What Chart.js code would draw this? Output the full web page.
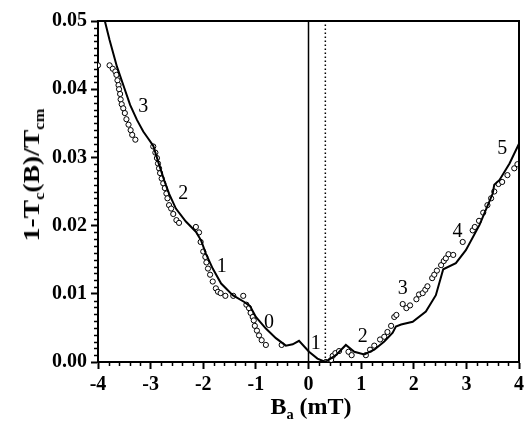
<!DOCTYPE html>
<html>
<head>
<meta charset="utf-8">
<script src="https://cdn.jsdelivr.net/npm/chart.js@4/dist/chart.umd.min.js"></script>
<style>
  body { margin: 0; background: #fff; }
  #wrap { position: relative; width: 524px; height: 424px; }
  .title { position: absolute; font-family: "Liberation Serif", serif; font-weight: bold; font-size: 24px; line-height: 1; white-space: nowrap; color: #000; }
  .title sub { font-size: 60%; vertical-align: baseline; position: relative; top: 0.35em; }
  #ytitle { left: 31px; top: 175px; transform: translate(-50%, -50%) rotate(-90deg) scaleX(1.15); }
  #xtitle { left: 311px; top: 406px; transform: translate(-50%, -50%); }
</style>
</head>
<body>
<div id="wrap">
  <canvas id="myChart" width="524" height="424"></canvas>
  <div class="title" id="ytitle">1-T<sub>c</sub>(B)/T<sub>cm</sub></div>
  <div class="title" id="xtitle">B<sub>a</sub> (mT)</div>
</div>
<script>
// measured points (open circles)
const expX = [-4.00, -3.78, -3.72, -3.67, -3.65, -3.63, -3.61, -3.60, -3.58, -3.57, -3.55, -3.52, -3.49, -3.46, -3.42, -3.38, -3.35, -3.29,
  -2.95, -2.91, -2.88, -2.86, -2.84, -2.82, -2.79, -2.76, -2.73, -2.70, -2.68, -2.65, -2.61, -2.57, -2.51, -2.46,
  -2.14, -2.08, -2.05, -2.00, -1.96, -1.94, -1.91, -1.87, -1.82, -1.76, -1.72, -1.67, -1.58, -1.43, -1.24,
  -1.18, -1.13, -1.10, -1.06, -1.04, -1.02, -0.98, -0.94, -0.89, -0.81, -0.51,
  0.33, 0.43, 0.46, 0.51, 0.58, 0.76, 0.82, 1.09, 1.17, 1.25, 1.36, 1.44, 1.50, 1.57, 1.63, 1.67,
  1.79, 1.86, 1.93, 2.05, 2.10, 2.17, 2.22, 2.26, 2.35, 2.39, 2.44, 2.52, 2.57, 2.61, 2.66, 2.75,
  2.93, 3.12, 3.16, 3.24, 3.32, 3.40, 3.47, 3.53, 3.61, 3.68, 3.78, 3.91, 3.97];
const expY = [0.0435, 0.0435, 0.0430, 0.0426, 0.0421, 0.0413, 0.0406, 0.0400, 0.0393, 0.0385, 0.0378, 0.0372, 0.0365, 0.0356, 0.0348, 0.0340, 0.0333, 0.0326,
  0.0316, 0.0307, 0.0299, 0.0291, 0.0284, 0.0277, 0.0269, 0.0262, 0.0255, 0.0247, 0.0240, 0.0230, 0.0225, 0.0217, 0.0208, 0.0204,
  0.0198, 0.0190, 0.0176, 0.0162, 0.0154, 0.0146, 0.0137, 0.0128, 0.0118, 0.0108, 0.0103, 0.0101, 0.0097, 0.0097, 0.0097,
  0.0084, 0.0079, 0.0072, 0.0066, 0.0061, 0.0053, 0.0046, 0.0039, 0.0032, 0.0025, 0.0025,
  0.0000, 0.0003, 0.0009, 0.0013, 0.0016, 0.0015, 0.0010, 0.0010, 0.0018, 0.0024, 0.0033, 0.0037, 0.0044, 0.0053, 0.0066, 0.0069,
  0.0085, 0.0079, 0.0083, 0.0092, 0.0099, 0.0101, 0.0106, 0.0111, 0.0123, 0.0128, 0.0134, 0.0142, 0.0148, 0.0152, 0.0158, 0.0157,
  0.0176, 0.0193, 0.0198, 0.0207, 0.0219, 0.0230, 0.0240, 0.0250, 0.0261, 0.0264, 0.0274, 0.0284, 0.0290];

// calculated curve (solid line)
const fitX = [-3.87, -3.78, -3.64, -3.51, -3.39, -3.26, -3.14, -3.05, -2.95,
  -2.85, -2.74, -2.65, -2.52, -2.33, -2.14, -2.04, -1.95, -1.82, -1.66, -1.44, -1.22, -1.11,
  -1.00, -0.81, -0.62, -0.43, -0.30, -0.18, 0.01, 0.17, 0.32,
  0.52, 0.71, 0.87, 1.06, 1.25, 1.44, 1.60, 1.66, 1.76, 1.98, 2.23, 2.42, 2.56,
  2.80, 2.99, 3.25, 3.50, 3.53, 3.63, 3.82, 4.00];
const fitY = [0.0500, 0.0472, 0.0433, 0.0404, 0.0377, 0.0355, 0.0338, 0.0328, 0.0317,
  0.0292, 0.0266, 0.0247, 0.0225, 0.0206, 0.0191, 0.0178, 0.0159, 0.0137, 0.0115, 0.0098, 0.0088, 0.0082,
  0.0066, 0.0049, 0.0035, 0.0024, 0.0026, 0.0031, 0.0015, 0.0005, 0.0000,
  0.0010, 0.0025, 0.0015, 0.0011, 0.0018, 0.0030, 0.0043, 0.0052, 0.0055, 0.0059, 0.0074, 0.0098, 0.0136,
  0.0145, 0.0164, 0.0201, 0.0247, 0.0260, 0.0267, 0.0291, 0.0320];

// vortex number labels
const labelText = ['3', '2', '1', '0', '1', '2', '3', '4', '5'];
const labelX = [-3.14, -2.38, -1.65, -0.75, 0.14, 1.03, 1.79, 2.83, 3.68];
const labelY = [0.0375, 0.0247, 0.0139, 0.0057, 0.0027, 0.0037, 0.0107, 0.0191, 0.0312];

// vertical markers
const zeroLineX = 0;
const dottedLineX = 0.32;

const xTickValues = [-4, -3, -2, -1, 0, 1, 2, 3, 4];
const yTickValues = [0.00, 0.01, 0.02, 0.03, 0.04, 0.05];

const serif = '"Liberation Serif", "Times New Roman", serif';

function toPoints(xs, ys) {
    return xs.map((x, i) => ({ x: x, y: ys[i] }));
}

const minorTicks = {
    id: 'minorTicks',
    afterDraw(chart) {
        const ctx = chart.ctx;
        const xs = chart.scales.x;
        const ys = chart.scales.y;
        const area = chart.chartArea;
        ctx.save();
        ctx.strokeStyle = '#000';
        ctx.lineWidth = 1.5;
        ctx.beginPath();
        for (let i = 0; i <= 40; i++) {
            if (i % 5 === 0) continue;
            const px = Math.round(xs.getPixelForValue(-4 + i * 0.2)) + 0.5;
            ctx.moveTo(px, area.bottom);
            ctx.lineTo(px, area.bottom + 4);
        }
        for (let i = 0; i <= 50; i++) {
            if (i % 10 === 0) continue;
            const py = Math.round(ys.getPixelForValue(i * 0.001)) + 0.5;
            ctx.moveTo(area.left, py);
            ctx.lineTo(area.left - 4, py);
        }
        ctx.stroke();
        // frame top and right
        ctx.lineWidth = 2;
        ctx.beginPath();
        ctx.moveTo(area.left, area.top);
        ctx.lineTo(area.right, area.top);
        ctx.lineTo(area.right, area.bottom);
        ctx.stroke();
        ctx.restore();
    }
};

const numberLabels = {
    id: 'numberLabels',
    afterDatasetsDraw(chart) {
        const ctx = chart.ctx;
        ctx.save();
        ctx.fillStyle = '#000';
        ctx.font = '20px ' + serif;
        ctx.textAlign = 'center';
        ctx.textBaseline = 'middle';
        labelText.forEach((t, i) => {
            ctx.fillText(t, chart.scales.x.getPixelForValue(labelX[i]), chart.scales.y.getPixelForValue(labelY[i]));
        });
        ctx.restore();
    }
};

function mainEvent() {
    const chartArea = document.querySelector('#myChart');
    new Chart(chartArea, {
        type: 'scatter',
        data: {
            datasets: [
                {
                    type: 'line',
                    data: [{ x: zeroLineX, y: 0 }, { x: zeroLineX, y: 0.05 }],
                    borderColor: '#000',
                    borderWidth: 1.5,
                    pointRadius: 0
                },
                {
                    type: 'line',
                    data: [{ x: dottedLineX, y: 0 }, { x: dottedLineX, y: 0.05 }],
                    borderColor: '#000',
                    borderWidth: 1.5,
                    borderDash: [1.5, 2.5],
                    pointRadius: 0
                },
                {
                    type: 'line',
                    data: toPoints(fitX, fitY),
                    borderColor: '#000',
                    borderWidth: 2,
                    pointRadius: 0,
                    tension: 0
                },
                {
                    data: toPoints(expX, expY),
                    pointStyle: 'circle',
                    pointRadius: 2.6,
                    borderWidth: 1,
                    borderColor: '#000',
                    backgroundColor: '#fff'
                }
            ]
        },
        options: {
            responsive: false,
            animation: false,
            layout: { padding: { left: 0, top: 21, right: 5, bottom: 0 } },
            plugins: { legend: { display: false }, tooltip: { enabled: false } },
            scales: {
                x: {
                    type: 'linear',
                    min: -4,
                    max: 4,
                    afterFit: (scale) => {
                        scale.height = 62;
                        scale.paddingLeft = 0;
                        scale.paddingRight = 0;
                    },
                    afterBuildTicks: (scale) => { scale.ticks = xTickValues.map(v => ({ value: v })); },
                    border: { display: true, color: '#000', width: 2 },
                    grid: { drawOnChartArea: false, drawTicks: true, tickLength: 7, tickWidth: 2, tickColor: '#000' },
                    ticks: {
                        color: '#000',
                        padding: 4,
                        maxRotation: 0,
                        font: { family: serif, size: 20, weight: 'bold' },
                        callback: (v) => String(v)
                    }
                },
                y: {
                    type: 'linear',
                    min: 0,
                    max: 0.05,
                    afterFit: (scale) => {
                        scale.width = 98;
                        scale.paddingTop = 0;
                        scale.paddingBottom = 0;
                    },
                    afterBuildTicks: (scale) => { scale.ticks = yTickValues.map(v => ({ value: v })); },
                    border: { display: true, color: '#000', width: 2 },
                    grid: { drawOnChartArea: false, drawTicks: true, tickLength: 7, tickWidth: 2, tickColor: '#000' },
                    ticks: {
                        color: '#000',
                        padding: 4,
                        font: { family: serif, size: 20, weight: 'bold' },
                        callback: (v) => Number(v).toFixed(2)
                    }
                }
            }
        },
        plugins: [minorTicks, numberLabels]
    });
}

document.addEventListener('DOMContentLoaded', () => mainEvent());
</script>
</body>
</html>
